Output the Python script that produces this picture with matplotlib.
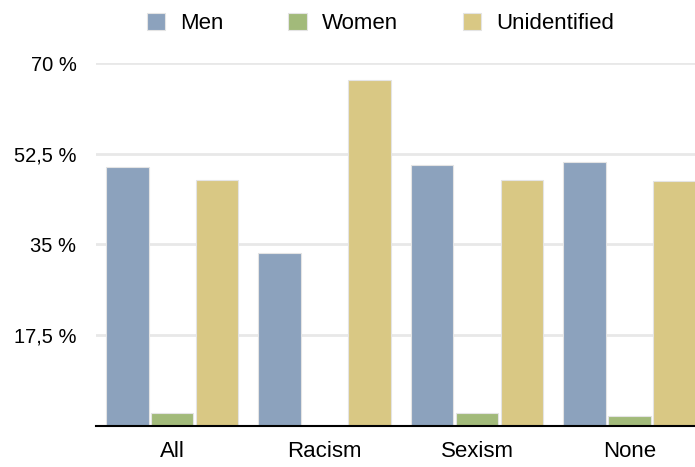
import numpy as np
import matplotlib.pyplot as plt
from matplotlib.ticker import FuncFormatter

plt.rcParams['font.family'] = ['Liberation Sans', 'DejaVu Sans']

# data
categories = ["All", "Racism", "Sexism", "None"]
series = ["Men", "Women", "Unidentified"]
men = [50.0, 33.3, 50.3, 50.9]
women = [2.5, 0.0, 2.5, 1.9]
unidentified = [47.5, 66.7, 47.5, 47.3]
yticks = [17.5, 35, 52.5, 70]

colors = ["#8ca2bd", "#a2ba7a", "#d9c884"]

fig = plt.figure(figsize=(6.95, 4.67), dpi=100)
ax = fig.add_axes([0.138, 0.088, 0.862, 0.777])

x = np.arange(len(categories))
step = 0.295
width = 0.28

for i, (name, vals) in enumerate(zip(series, [men, women, unidentified])):
    ax.bar(x + (i - 1) * step, vals, width,
           color=colors[i], edgecolor="#e4e4e4", linewidth=0.8,
           label=name, zorder=3)

ax.set_ylim(0, 70)
ax.set_xlim(-0.5, 3.43)
ax.set_yticks(yticks)
ax.yaxis.set_major_formatter(
    FuncFormatter(lambda v, p: ("%g %%" % v).replace(".", ","))
)
ax.grid(axis="y", color="#e8e8e8", linewidth=2, zorder=0)
ax.set_xticks(x)
ax.set_xticklabels(categories)

for s in ["top", "right", "left"]:
    ax.spines[s].set_visible(False)
ax.spines["bottom"].set_linewidth(1.5)
ax.spines["bottom"].set_color("black")
ax.spines["bottom"].set_zorder(4)

ax.tick_params(axis="y", length=0, pad=14, labelsize=14.5)
ax.tick_params(axis="x", length=0, pad=11, labelsize=16)

ax.legend(loc="center", bbox_to_anchor=(0.5475, 0.95),
          bbox_transform=fig.transFigure, ncol=3, frameon=False,
          fontsize=16, handlelength=0.82, handleheight=0.82,
          columnspacing=2.9, handletextpad=0.7)

fig.savefig("out.png", dpi=100)
